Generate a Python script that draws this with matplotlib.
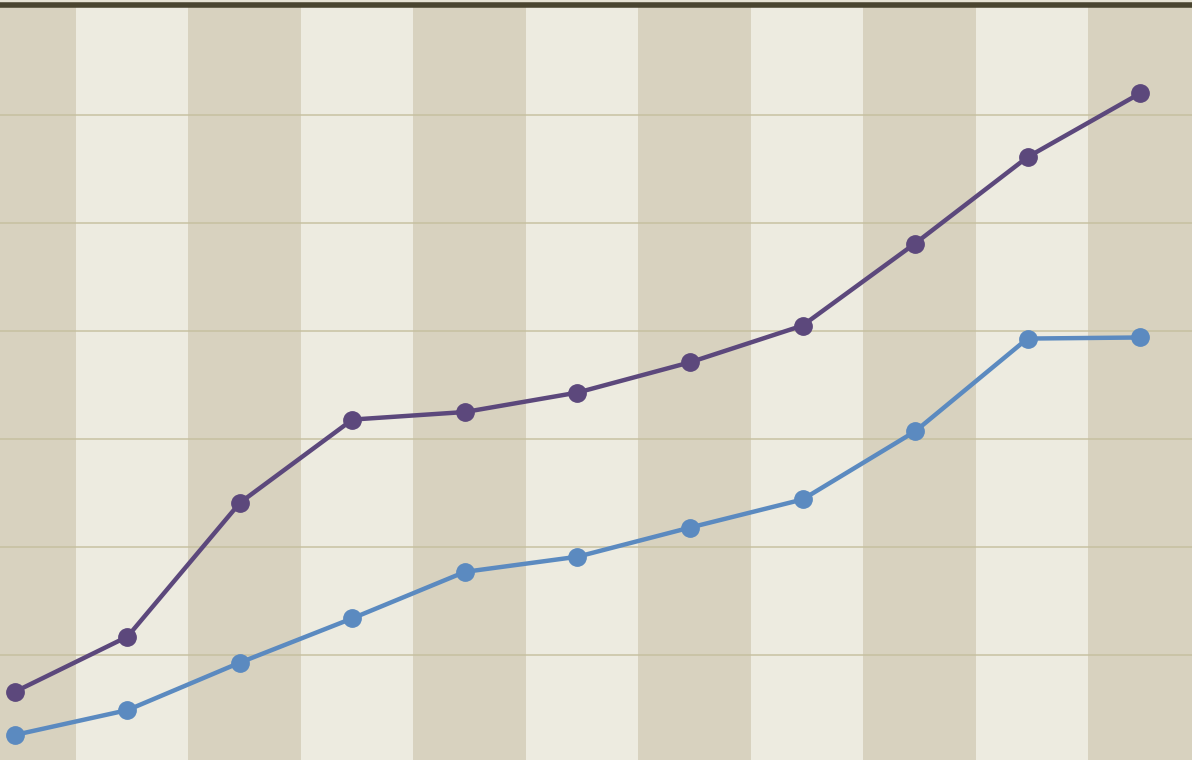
import matplotlib.pyplot as plt
import numpy as np

# two cumulative series over eleven periods
periods = list(range(11))
upper = [6.6, 11.7, 24.1, 31.8, 32.5, 34.3, 37.1, 40.5, 48.1, 56.1, 62.0]
lower = [2.6, 4.9, 9.3, 13.4, 17.7, 19.1, 21.8, 24.4, 30.7, 39.3, 39.4]
grid_levels = [10, 20, 30, 40, 50, 60]

band_dark = "#d8d2bf"
band_light = "#edebe0"
purple = "#5c487c"
blue = "#5b8ac0"

fig = plt.figure(figsize=(11.92, 7.6), dpi=100)
fig.patch.set_facecolor("#e6e2d4")
ax = fig.add_axes([0, 0, 1, 0.9928])
ax.set_facecolor(band_light)

# alternating column bands, one per period
for i in periods:
    ax.axvspan(i - 0.46, i + 0.54, color=band_dark if i % 2 == 0 else band_light,
               lw=0, zorder=0)

for g in grid_levels:
    ax.axhline(g, color="#c6bf9f", lw=1.3, alpha=0.8, zorder=1)

ax.plot(periods, upper, color=purple, lw=3.2, marker="o", ms=12.5, zorder=3)
ax.plot(periods, lower, color=blue, lw=3.2, marker="o", ms=12.5, zorder=3)

ax.set_xlim(-0.133, 10.462)
ax.set_ylim(0.28, 70.14)
ax.set_xticks([])
ax.set_yticks([])
for side in ["left", "right", "bottom"]:
    ax.spines[side].set_visible(False)
ax.spines["top"].set_color("#4a4530")
ax.spines["top"].set_linewidth(4)

fig.savefig("out.png", dpi=100, facecolor=fig.get_facecolor())
